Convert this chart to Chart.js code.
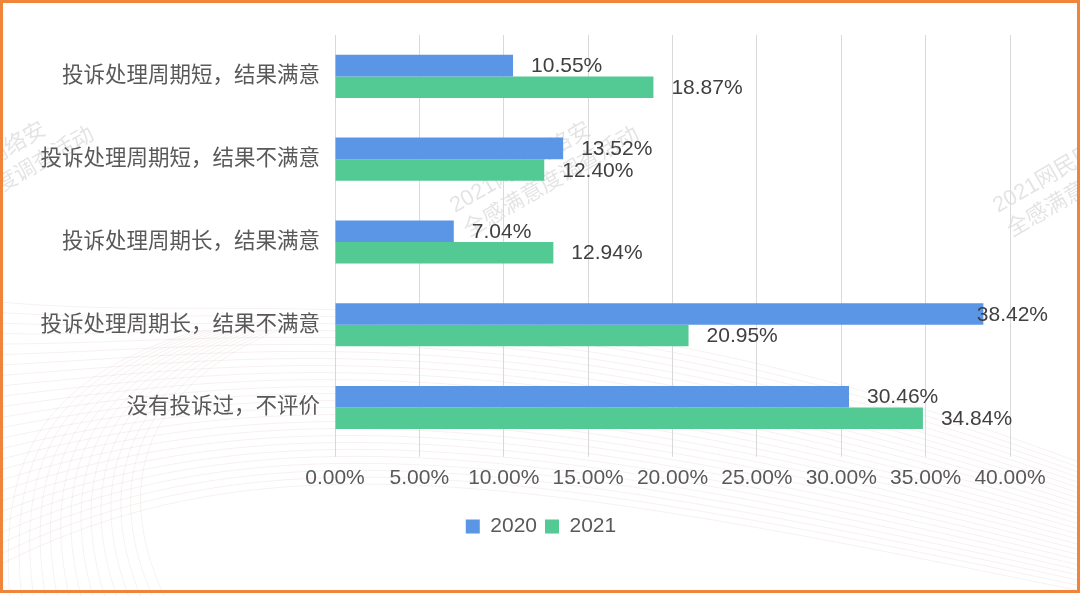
<!DOCTYPE html>
<html>
<head>
<meta charset="utf-8">
<script src="https://cdn.jsdelivr.net/npm/chart.js@4/dist/chart.umd.min.js"></script>
<style>
  html, body { margin: 0; padding: 0; background: #fff; }
  #wrap { position: relative; width: 1080px; height: 596px; }
  #frame {
    position: absolute; left: 0; top: 0; width: 1080px; height: 593px;
    box-sizing: border-box; border: 3px solid #F0843A; pointer-events: none;
  }
</style>
</head>
<body>
<div id="wrap">
  <canvas id="chart" width="1080" height="596"></canvas>
  <div id="frame"></div>
</div>
<script>
// categories + series (percent)
const categories = [
    '投诉处理周期短，结果满意',
    '投诉处理周期短，结果不满意',
    '投诉处理周期长，结果满意',
    '投诉处理周期长，结果不满意',
    '没有投诉过，不评价'
];
const seriesNames = ['2020', '2021'];
const values2020 = [10.55, 13.52, 7.04, 38.42, 30.46];
const values2021 = [18.87, 12.40, 12.94, 20.95, 34.84];
const xMin = 0, xMax = 40, xStep = 5;

const FONT = "'Liberation Sans', 'Noto Sans CJK SC', sans-serif";
const watermark = ['2021网民网络安', '全感满意度调查活动'];

// faint wavy lines + watermark behind the chart
const backdrop = {
    id: 'backdrop',
    beforeDraw(chart) {
        const ctx = chart.ctx;
        ctx.save();
        ctx.fillStyle = '#fff';
        ctx.fillRect(0, 0, chart.width, chart.height);
        ctx.lineWidth = 1;
        // fan of curves in lower half
        for (let i = 0; i < 26; i++) {
            ctx.strokeStyle = 'rgba(200,160,160,0.15)';
            ctx.beginPath();
            ctx.moveTo(-20, 300 + i * 11);
            ctx.bezierCurveTo(250, 330 + i * 4, 520, 250 + i * 9, 1100, 470 + i * 5);
            ctx.stroke();
        }
        for (let i = 0; i < 14; i++) {
            ctx.strokeStyle = 'rgba(200,160,160,0.14)';
            ctx.beginPath();
            ctx.moveTo(10 + i * 12, 600);
            ctx.bezierCurveTo(0 + i * 8, 470, 30 + i * 10, 380, 200 + i * 6, 330);
            ctx.stroke();
        }
        // watermark
        ctx.fillStyle = 'rgba(0,0,0,0.11)';
        ctx.font = "22px " + FONT;
        ctx.textBaseline = 'alphabetic';
        [[-90, 213], [455, 213], [998, 213]].forEach(function(p) {
            ctx.save();
            ctx.translate(p[0], p[1]);
            ctx.rotate(-Math.PI / 6);
            ctx.fillText(watermark[0], 0, 0);
            ctx.fillText(watermark[1], 0, 28);
            ctx.restore();
        });
        ctx.restore();
    }
};

// value labels next to bar ends
const barLabels = {
    id: 'barLabels',
    afterDatasetsDraw(chart) {
        const ctx = chart.ctx;
        ctx.save();
        ctx.font = "21px " + FONT;
        ctx.fillStyle = '#404040';
        ctx.textAlign = 'left';
        ctx.textBaseline = 'middle';
        chart.data.datasets.forEach(function(ds, di) {
            const meta = chart.getDatasetMeta(di);
            meta.data.forEach(function(bar, i) {
                const txt = ds.data[i].toFixed(2) + '%';
                const w = ctx.measureText(txt).width;
                const x = Math.min(bar.x + 18, 1048 - w);
                ctx.fillText(txt, x, bar.y + 1);
            });
        });
        ctx.restore();
    }
};

// legend is centred on the whole picture, not just the padded box
const legendShift = {
    id: 'legendShift',
    afterLayout(chart) {
        if (chart.legend) {
            chart.legend.left += 36;
            chart.legend.right += 36;
        }
    }
};

new Chart(document.getElementById('chart'), {
    type: 'bar',
    data: {
        labels: categories,
        datasets: [
            { label: seriesNames[0], data: values2020, backgroundColor: '#5B95E5' },
            { label: seriesNames[1], data: values2021, backgroundColor: '#53C994' }
        ]
    },
    options: {
        indexAxis: 'y',
        responsive: false,
        animation: false,
        devicePixelRatio: 1,
        categoryPercentage: 0.52,
        barPercentage: 1,
        layout: { padding: { left: 0, right: 70, top: 35, bottom: 49 } },
        plugins: {
            legend: {
                position: 'bottom',
                labels: {
                    boxWidth: 14, boxHeight: 14, padding: 8,
                    color: '#595959',
                    font: { family: FONT, size: 21 }
                }
            },
            tooltip: { enabled: false }
        },
        scales: {
            x: {
                min: xMin, max: xMax,
                afterFit(scale) { scale.height += 8; },
                ticks: {
                    stepSize: xStep,
                    color: '#595959',
                    padding: 9,
                    font: { family: FONT, size: 21 },
                    callback: v => v.toFixed(2) + '%'
                },
                grid: { color: '#D9D9D9', tickLength: 8, tickColor: '#D9D9D9' },
                border: { display: false }
            },
            y: {
                afterFit(scale) { scale.width = 335; },
                ticks: {
                    color: '#595959',
                    padding: 15,
                    font: { family: FONT, size: 21.5 }
                },
                grid: { display: false, drawTicks: false },
                border: { display: false }
            }
        }
    },
    plugins: [backdrop, barLabels, legendShift]
});
</script>
</body>
</html>
